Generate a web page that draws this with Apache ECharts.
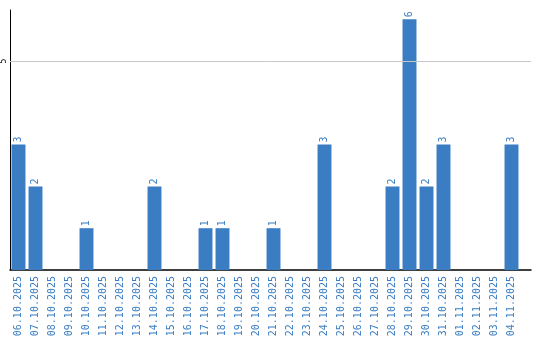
<!DOCTYPE html>
<html><head><meta charset="utf-8">
<script src="https://cdn.jsdelivr.net/npm/echarts@6/dist/echarts.min.js"></script>
<style>html,body{margin:0;padding:0;background:#fff}#c{width:540px;height:340px}</style>
</head><body><div id="c"></div>
<script>
const categories = ["06.10.2025","07.10.2025","08.10.2025","09.10.2025","10.10.2025","11.10.2025","12.10.2025","13.10.2025","14.10.2025","15.10.2025","16.10.2025","17.10.2025","18.10.2025","19.10.2025","20.10.2025","21.10.2025","22.10.2025","23.10.2025","24.10.2025","25.10.2025","26.10.2025","27.10.2025","28.10.2025","29.10.2025","30.10.2025","31.10.2025","01.11.2025","02.11.2025","03.11.2025","04.11.2025"];
const values = [3,2,0,0,1,0,0,0,2,0,0,1,1,0,0,1,0,0,3,0,0,0,2,6,2,3,0,0,0,3];
const yTicks = [5];
const yMax = 6.22;
const blue = '#3b7dc3';
const font = 'DejaVu Sans Mono';
const chart = echarts.init(document.getElementById('c'));
chart.setOption({
  animation:false,
  grid:[
    {left:10,right:20,top:10,bottom:70,containLabel:false},
    {left:10,right:9,top:10,bottom:70,containLabel:false}
  ],
  xAxis:[
    {type:'category',data:categories,gridIndex:0,
      axisLine:{show:false},axisTick:{show:false},
      axisLabel:{rotate:90,color:blue,fontFamily:font,fontSize:10,margin:6,interval:0}},
    {type:'value',gridIndex:1,min:0,max:1,
      axisLine:{show:true,onZero:false,lineStyle:{color:'#000',width:1.5}},axisTick:{show:false},
      axisLabel:{show:false},splitLine:{show:false}}
  ],
  yAxis:[
    {type:'value',gridIndex:0,min:0,max:yMax,interval:5,
      axisLine:{show:true,lineStyle:{color:'#000',width:1}},axisTick:{show:false},
      splitLine:{show:false},
      axisLabel:{rotate:90,color:'#000',fontFamily:font,fontSize:8,margin:2,
        formatter:v=>yTicks.includes(v)?String(v):''}},
    {type:'value',gridIndex:1,min:0,max:yMax,show:false}
  ],
  series:[
    {type:'line',xAxisIndex:1,yAxisIndex:1,data:[],z:1,
      markLine:{silent:true,symbol:'none',label:{show:false},
        lineStyle:{color:'#c8c8c8',type:'solid',width:1},
        data:yTicks.map(t=>({yAxis:t}))}},
    {type:'bar',xAxisIndex:0,yAxisIndex:0,data:values,barCategoryGap:'18%',z:3,
      itemStyle:{color:blue},
      label:{show:true,position:'top',rotate:90,align:'left',verticalAlign:'middle',distance:2,
        color:blue,fontFamily:font,fontSize:10,formatter:p=>p.value>0?String(p.value):''}}
  ]
});
</script></body></html>
